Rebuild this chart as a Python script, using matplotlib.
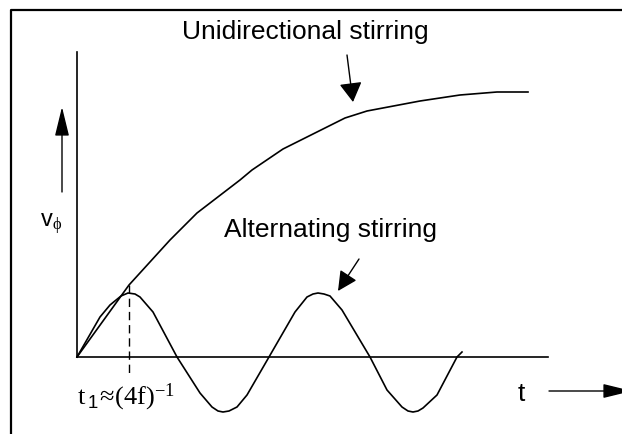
import matplotlib.pyplot as plt

plt.rcParams['mathtext.fontset'] = 'custom'
plt.rcParams['mathtext.rm'] = 'Liberation Serif'
plt.rcParams['mathtext.it'] = 'Liberation Serif:italic'
plt.rcParams['mathtext.sf'] = 'Liberation Sans'

# curves (t to the right, v_phi upward, origin at the axes corner)
uni_t = [0, 52, 93, 120, 163, 175, 206, 268, 290, 343, 383, 420, 451]
uni_v = [0, 72, 117, 144, 177, 187, 208, 239, 246, 256, 262, 265, 265]

alt_t = [0, 23, 33, 44, 51, 58, 63, 76, 100, 123, 135, 141, 146, 152, 160, 170,
         192, 218, 230, 236, 241, 247, 253, 265, 293, 310, 325, 331, 336, 341,
         346, 360, 380, 385]
alt_v = [0, 40, 52, 61, 64, 63, 60, 45, 0, -36, -50, -54, -55, -54, -50, -38,
         0, 45, 60, 63, 64, 63, 61, 47, 0, -33, -50, -54, -55, -54, -51, -38,
         0, 5]

t1 = 52          # first maximum of the alternating curve
t1_span = [72, -16]

fig = plt.figure(figsize=(6.22, 4.34), dpi=100)
ax = fig.add_axes([0, 0, 1, 1])
ax.set_xlim(-77, 545)
ax.set_ylim(-77, 357)
ax.axis('off')

# frame around the sketch (cut at right and bottom)
ax.plot([-66, -66, 560], [-90, 347, 347], color='black', lw=1.6, clip_on=False)

# axes
ax.plot([0, 0], [0, 305], color='black', lw=1.2)
ax.plot([0, 471], [0, 0], color='black', lw=1.2)

# curves
ax.plot(uni_t, uni_v, color='black', lw=1.2)
ax.plot(alt_t, alt_v, color='black', lw=1.2)
ax.plot([t1, t1], t1_span, color='black', lw=1.0, linestyle=(0, (6, 3.5)))

# labels
ax.text(228, 318, 'Unidirectional stirring', fontsize=19, family='Liberation Sans',
        ha='center', va='baseline')
ax.text(254, 120, 'Alternating stirring', fontsize=19, family='Liberation Sans',
        ha='center', va='baseline')
ax.text(-37, 130, r'$\mathsf{v}_{\mathrm{\phi}}$', fontsize=17, ha='left', va='baseline')
ax.text(441, -44, 't', fontsize=19, family='Liberation Sans', ha='left', va='baseline')
ax.text(0, -47, r'$\mathrm{t}\,{}_{\mathsf{1}}\!\approx\!\mathrm{(4f)}^{-1}$', fontsize=19,
        ha='left', va='baseline')

# arrows
ax.annotate('', xy=(276, 255), xytext=(270, 302),
            arrowprops=dict(arrowstyle='-|>,head_length=0.6,head_width=0.35',
                            mutation_scale=20, color='black', lw=1.0,
                            shrinkA=0, shrinkB=0))
ax.annotate('', xy=(261, 66), xytext=(282, 98),
            arrowprops=dict(arrowstyle='-|>,head_length=0.6,head_width=0.3',
                            mutation_scale=20, color='black', lw=1.0,
                            shrinkA=0, shrinkB=0))
ax.annotate('', xy=(-15, 250), xytext=(-15, 165),
            arrowprops=dict(arrowstyle='-|>,head_length=0.9,head_width=0.22',
                            mutation_scale=20, color='black', lw=1.0,
                            shrinkA=0, shrinkB=0))
ax.annotate('', xy=(555, -34), xytext=(472, -34), annotation_clip=False,
            arrowprops=dict(arrowstyle='-|>,head_length=0.9,head_width=0.22',
                            mutation_scale=20, color='black', lw=1.0,
                            shrinkA=0, shrinkB=0))

fig.savefig('out.png', dpi=100)
